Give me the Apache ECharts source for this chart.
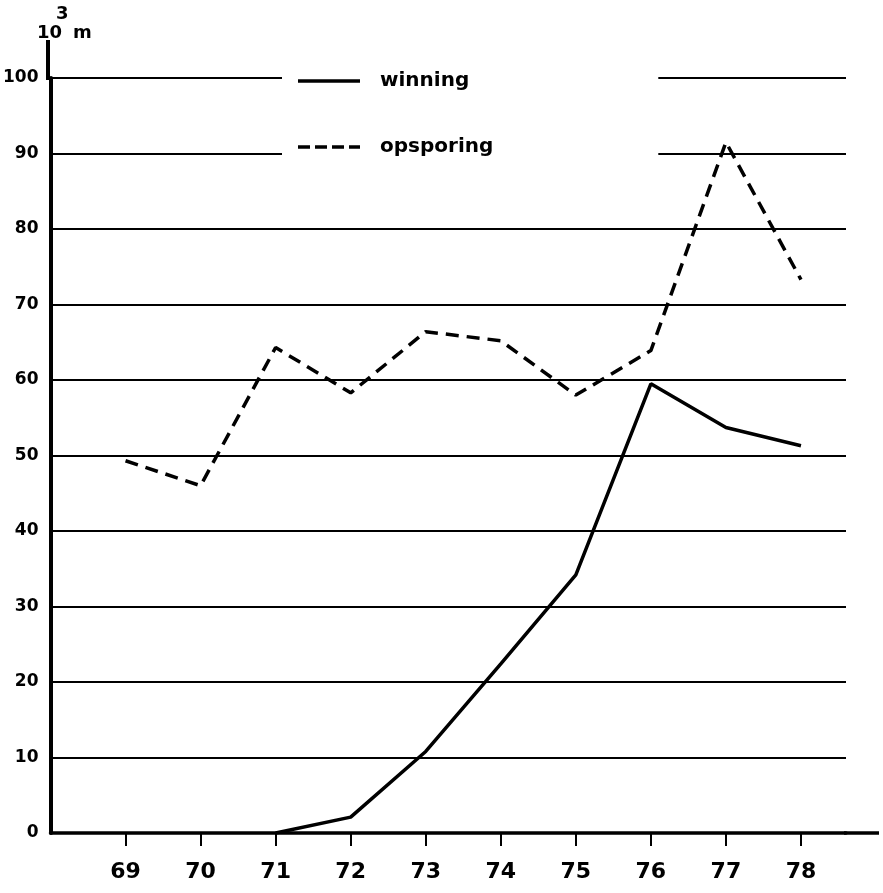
<!DOCTYPE html>
<html>
<head>
<meta charset="utf-8">
<style>
  html, body { margin: 0; padding: 0; background: #fff; }
  #chart { width: 883px; height: 893px; }
</style>
<script src="https://cdn.jsdelivr.net/npm/echarts@6/dist/echarts.min.js"></script>
</head>
<body>
<div id="chart"></div>
<script>
// jaren (19..)
const years = [69, 70, 71, 72, 73, 74, 75, 76, 77, 78]
// 10^3 m per jaar
const winning = [null, null, 0, 2.1, 10.8, 22.4, 34.2, 59.5, 53.7, 51.3]
const opsporing = [49.3, 46, 64.3, 58.3, 66.4, 65.2, 58, 63.9, 91.5, 73.3]
const yTicks = [0, 10, 20, 30, 40, 50, 60, 70, 80, 90, 100]

const font = 'DejaVu Sans'
// legenda-iconen: doorgetrokken en gestreepte lijn
const solidIcon = 'path://M0,0h62v3.5h-62z'
const dashIcon = 'path://M0,0h12v3.5h-12zM17,0h12v3.5h-12zM34,0h12v3.5h-12zM51,0h11v3.5h-11z'

function pairs(vals) {
  return years.map((y, i) => [y, vals[i]])
}

const unitText = (text, left, top) => ({
  type: 'text',
  left,
  top,
  style: { text, fontFamily: font, fontWeight: 'bold', fontSize: 18, fill: '#000' }
})

const chart = echarts.init(document.getElementById('chart'))
chart.setOption({
  animation: false,
  backgroundColor: '#fff',
  grid: { left: 48, right: 37, top: 78, bottom: 60 },
  legend: {
    orient: 'vertical',
    left: 282,
    top: 67,
    padding: [4, 165, 6, 16],
    backgroundColor: '#fff',
    itemWidth: 62,
    itemHeight: 4,
    itemGap: 46,
    textStyle: {
      fontFamily: font,
      fontWeight: 'bold',
      fontSize: 20,
      color: '#000',
      padding: [0, 0, 0, 15]
    },
    data: [
      { name: 'winning', icon: solidIcon },
      { name: 'opsporing', icon: dashIcon }
    ]
  },
  xAxis: {
    type: 'value',
    min: 68,
    max: 78.6,
    interval: 1,
    axisLine: { lineStyle: { color: '#000', width: 3.5 } },
    axisTick: { length: 13, lineStyle: { color: '#000', width: 2 }, customValues: years },
    axisLabel: {
      customValues: years,
      margin: 28,
      fontFamily: font,
      fontWeight: 'bold',
      fontSize: 22,
      color: '#000'
    },
    splitLine: { show: false }
  },
  yAxis: {
    type: 'value',
    min: 0,
    max: 100,
    interval: 10,
    axisLine: { show: true, lineStyle: { color: '#000', width: 4 } },
    axisTick: { show: false },
    axisLabel: {
      margin: 12,
      fontFamily: font,
      fontWeight: 'bold',
      fontSize: 17,
      color: '#000',
      formatter: v => (yTicks.includes(v) ? String(v) : '')
    },
    splitLine: { lineStyle: { color: '#000', width: 2 } }
  },
  graphic: [
    // verlengde assen
    { type: 'line', shape: { x1: 48, y1: 40, x2: 48, y2: 80 }, style: { stroke: '#000', lineWidth: 4 } },
    { type: 'line', shape: { x1: 844, y1: 833, x2: 879, y2: 833 }, style: { stroke: '#000', lineWidth: 3.5 } },
    // eenheid 10^3 m
    unitText('10', 37, 24),
    unitText('3', 56, 5),
    unitText('m', 73, 24)
  ],
  series: [
    {
      name: 'winning',
      type: 'line',
      symbol: 'none',
      lineStyle: { color: '#000', width: 3.5 },
      itemStyle: { color: '#000' },
      data: pairs(winning)
    },
    {
      name: 'opsporing',
      type: 'line',
      symbol: 'none',
      lineStyle: { color: '#000', width: 3.5, type: [13, 8] },
      itemStyle: { color: '#000' },
      data: pairs(opsporing)
    }
  ]
})
</script>
</body>
</html>
